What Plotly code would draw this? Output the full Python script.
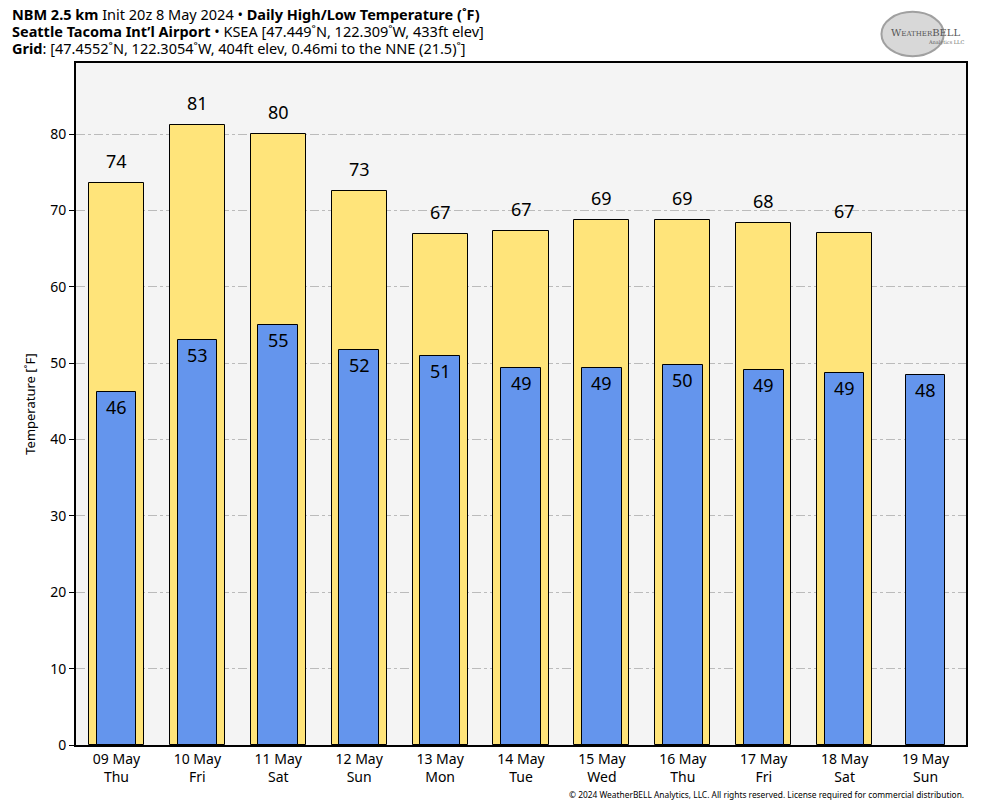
import plotly.graph_objects as go

dates = ["09 May<br>Thu", "10 May<br>Fri", "11 May<br>Sat", "12 May<br>Sun", "13 May<br>Mon",
         "14 May<br>Tue", "15 May<br>Wed", "16 May<br>Thu", "17 May<br>Fri", "18 May<br>Sat",
         "19 May<br>Sun"]
highs = [73.6, 81.2, 80.0, 72.6, 66.9, 67.3, 68.8, 68.8, 68.3, 67.1, None]
lows = [46.2, 53.0, 55.0, 51.7, 50.9, 49.3, 49.4, 49.7, 49.1, 48.7, 48.4]

title_lines = [
    "<b>NBM 2.5 km</b> Init 20z 8 May 2024 • <b>Daily High/Low Temperature (˚F)</b>",
    "<b>Seattle Tacoma Int’l Airport</b> • KSEA [47.449˚N, 122.309˚W, 433ft elev]",
    "<b>Grid</b>: [47.4552˚N, 122.3054˚W, 404ft elev, 0.46mi to the NNE (21.5)˚]",
]

FONT = "Noto Sans"
fig = go.Figure()
fig.add_trace(go.Bar(x=dates, y=highs, width=0.68, marker=dict(color="#ffe47a", line=dict(color="black", width=1)),
                     hoverinfo="skip", showlegend=False))
fig.add_trace(go.Bar(x=dates, y=lows, width=0.49, marker=dict(color="#6495ed", line=dict(color="black", width=1)),
                     hoverinfo="skip", showlegend=False))

for d, h in zip(dates, highs):
    if h is not None:
        fig.add_annotation(x=d, y=h, text=str(round(h)), showarrow=False, yanchor="bottom", yshift=8,
                           font=dict(family=FONT, size=18, color="black"))
for d, l in zip(dates, lows):
    fig.add_annotation(x=d, y=l, text=str(round(l)), showarrow=False, yanchor="top", yshift=-1,
                       font=dict(family=FONT, size=18, color="black"))

PH = 682.0
for i, line in enumerate(title_lines):
    ypix = 6 + 17 * i  # centre of each line, in page pixels
    fig.add_annotation(xref="paper", yref="paper", x=-0.074, y=1 + (55 - (ypix)) / PH,
                       xanchor="left", yanchor="middle", align="left", showarrow=False,
                       text=line, font=dict(family=FONT, size=14.5, color="black"))

# logo approximation
fig.add_shape(type="circle", xref="paper", yref="paper", x0=0.905, x1=0.975, y0=1.01, y1=1.075,
              fillcolor="#d8d8d8", line=dict(color="#a0a0a0", width=2), layer="above")
fig.add_annotation(xref="paper", yref="paper", x=0.955, y=1.045, xanchor="center", yanchor="middle",
                   showarrow=False, text="W<span style='font-size:7px'>EATHER</span>BELL",
                   font=dict(family="DejaVu Serif", size=10, color="#555"))
fig.add_annotation(xref="paper", yref="paper", x=1.0, y=1.03, xanchor="right", yanchor="middle",
                   showarrow=False, text="Analytics LLC",
                   font=dict(family="DejaVu Serif", size=5, color="#666"))

fig.add_annotation(xref="paper", yref="paper", x=1.0, y=-0.073, xanchor="right", yanchor="middle",
                   showarrow=False,
                   text="© 2024 WeatherBELL Analytics, LLC. All rights reserved. License required for commercial distribution.",
                   font=dict(family=FONT, size=8.4, color="black"))

fig.update_layout(
    width=976, height=800, barmode="overlay",
    margin=dict(l=68, r=18, t=55, b=63),
    paper_bgcolor="white", plot_bgcolor="#f4f4f4",
    font=dict(family=FONT, size=14, color="black"),
    bargap=0,
)
fig.update_xaxes(range=[-0.5, 10.5], showline=True, linecolor="black", linewidth=2, mirror=True,
                 ticks="", showgrid=False, tickfont=dict(family=FONT, size=14))
fig.update_yaxes(range=[0, 89.3], dtick=10, showline=True, linecolor="black", linewidth=2, mirror=True,
                 ticks="outside", ticklen=5, tickcolor="black", showgrid=True, gridcolor="#bbbbbb",
                 griddash="dashdot", gridwidth=1, zeroline=False,
                 title=dict(text="Temperature [˚F]", font=dict(family=FONT, size=13), standoff=12),
                 tickfont=dict(family=FONT, size=14))

fig.write_html("out.html")
